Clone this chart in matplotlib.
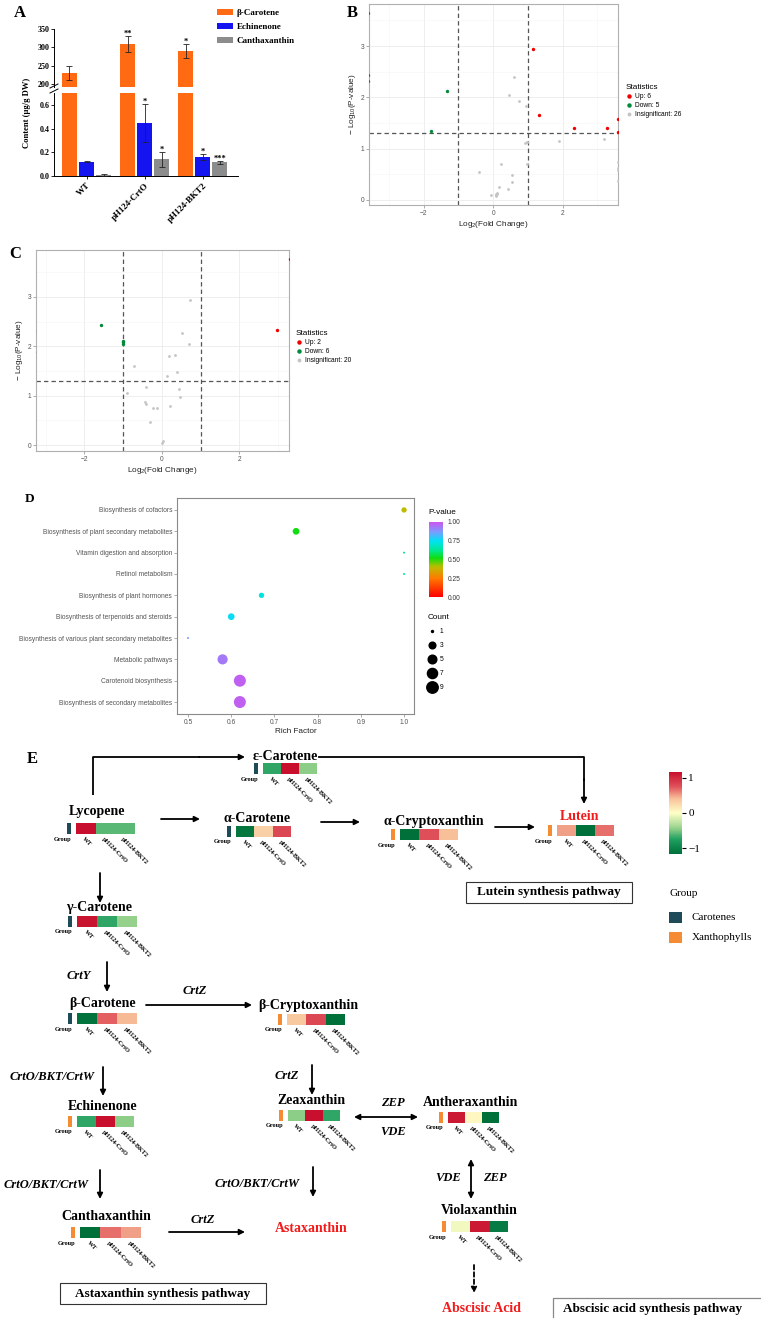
import numpy as np
import matplotlib
matplotlib.use("Agg")
import matplotlib.pyplot as plt
from matplotlib.colors import LinearSegmentedColormap, Normalize
from matplotlib.patches import Rectangle
from matplotlib.lines import Line2D
from matplotlib.cm import ScalarMappable

W, H = 761, 1318
SERIF = ["Liberation Serif", "DejaVu Serif"]
SANS = ["Liberation Sans", "DejaVu Sans"]
plt.rcParams["font.family"] = SERIF
plt.rcParams["mathtext.default"] = "regular"

# ---------------- A: pigment content
strains = ["WT", "pH124-CrtO", "pH124-BKT2"]
pigments = ["β-Carotene", "Echinenone", "Canthaxanthin"]
beta_carotene = [230, 310, 290]
beta_carotene_err = [18, 22, 20]
echinenone = [0.12, 0.45, 0.16]
echinenone_err = [0.005, 0.16, 0.025]
canthaxanthin = [0.01, 0.14, 0.115]
canthaxanthin_err = [0.006, 0.06, 0.015]
beta_carotene_sig = ["", "**", "*"]
echinenone_sig = ["", "*", "*"]
canthaxanthin_sig = ["", "*", "***"]

# ---------------- B: volcano (log2 FC, -log10 p)
b_up_fc = [1.16, 1.33, 2.33, 3.28, 3.6, 3.6]
b_up_p = [2.94, 1.66, 1.41, 1.41, 1.58, 1.32]
b_down_fc = [-3.6, -3.6, -3.6, -1.32, -1.79]
b_down_p = [3.65, 2.44, 2.31, 2.12, 1.35]
b_ns_fc = [0.60, 0.45, 0.75, 0.95, 0.97, 0.93, 1.91, 3.21, 0.99, 0.23,
           -0.41, 0.54, 0.53, 0.16, 0.44, -0.07, 0.07, 0.11, 0.09, 3.6,
           3.6, 3.6, 0.08, 3.6, 0.98, 0.12]
b_ns_p = [2.39, 2.05, 1.92, 1.83, 1.12, 1.11, 1.15, 1.18, 0.69, 0.69,
          0.54, 0.48, 0.34, 0.25, 0.21, 0.10, 0.07, 0.14, 0.12, 0.73,
          0.58, 0.37, 0.09, 0.62, 1.13, 0.11]

# ---------------- C: volcano
c_up_fc = [3.3, 2.97]
c_up_p = [3.77, 2.34]
c_down_fc = [-3.3, -3.3, -1.57, -1.0, -1.0, -1.0]
c_down_p = [2.30, 1.88, 2.43, 2.11, 2.04, 2.08]
c_ns_fc = [0.73, 0.51, 0.70, 0.34, 0.19, -0.71, 0.40, 0.14, -0.42, 0.43,
           -0.90, 0.46, -0.43, -0.42, -0.24, -0.12, 0.21, -0.31, 0.03, 0.01]
c_ns_p = [2.94, 2.27, 2.04, 1.83, 1.80, 1.61, 1.48, 1.40, 1.17, 1.14,
          1.05, 0.97, 0.88, 0.83, 0.76, 0.76, 0.79, 0.47, 0.09, 0.05]

# ---------------- D: KEGG enrichment
pathways = ["Biosynthesis of cofactors",
            "Biosynthesis of plant secondary metabolites",
            "Vitamin digestion and absorption",
            "Retinol metabolism",
            "Biosynthesis of plant hormones",
            "Biosynthesis of terpenoids and steroids",
            "Biosynthesis of various plant secondary metabolites",
            "Metabolic pathways",
            "Carotenoid biosynthesis",
            "Biosynthesis of secondary metabolites"]
rich_factor = [1.0, 0.75, 1.0, 1.0, 0.67, 0.60, 0.50, 0.58, 0.62, 0.62]
gene_count = [2, 3, 1, 1, 2, 3, 1, 7, 10, 10]
p_value = [0.40, 0.52, 0.62, 0.62, 0.72, 0.76, 0.86, 0.93, 0.98, 0.98]
count_breaks = [1, 3, 5, 7, 9]

# ---------------- E: pathway heatmap (row z-scores)
samples = ["WT", "pH124-CrtO", "pH124-BKT2"]
compounds = ["ε-Carotene", "Lycopene", "α-Carotene", "α-Cryptoxanthin", "Lutein",
             "γ-Carotene", "β-Carotene", "β-Cryptoxanthin", "Echinenone",
             "Zeaxanthin", "Antheraxanthin", "Violaxanthin", "Canthaxanthin"]
compound_group = ["Carotenes", "Carotenes", "Carotenes", "Xanthophylls", "Xanthophylls",
                  "Carotenes", "Carotenes", "Xanthophylls", "Xanthophylls",
                  "Xanthophylls", "Xanthophylls", "Xanthophylls", "Xanthophylls"]
z_wt = [-0.70, 1.15, -1.10, -1.15, 0.50, 1.12, -1.12, 0.35, -0.70, -0.45, 1.10, -0.05, -1.15]
z_crto = [1.15, -0.58, 0.30, 0.75, -1.15, -0.70, 0.70, 0.80, 1.15, 1.15, 0.05, 1.10, 0.65]
z_bkt2 = [-0.45, -0.58, 0.80, 0.40, 0.65, -0.42, 0.42, -1.15, -0.45, -0.70, -1.15, -1.05, 0.50]
group_names = ["Carotenes", "Xanthophylls"]


def px_rect(x0, y0, x1, y1):
    return [x0 / W, 1 - y1 / H, (x1 - x0) / W, (y1 - y0) / H]


def fx(x):
    return x / W


def fy(y):
    return 1 - y / H


fig = plt.figure(figsize=(W / 100, H / 100), dpi=100, facecolor="white")

# =============== Panel A ===============
axA_top = fig.add_axes(px_rect(54, 29, 238, 87))
axA_bot = fig.add_axes(px_rect(54, 93, 238, 176))
xpos = np.arange(len(strains))
a_series = [(beta_carotene, beta_carotene_err, beta_carotene_sig, "#FF6A13"),
            (echinenone, echinenone_err, echinenone_sig, "#1414F0"),
            (canthaxanthin, canthaxanthin_err, canthaxanthin_sig, "#8C8C8C")]
bar_handles = []
for k, (vals, errs, sig, col) in enumerate(a_series):
    xs = xpos + (k - 1) * 0.293
    for ax in (axA_top, axA_bot):
        b = ax.bar(xs, vals, 0.26, color=col, zorder=2)
        ax.errorbar(xs, vals, yerr=errs, fmt="none", ecolor="#222222",
                    elinewidth=0.6, capsize=2.2, capthick=0.6, zorder=3)
    bar_handles.append(b)
    for xi, v, e, s in zip(xs, vals, errs, sig):
        if not s:
            continue
        target = axA_top if v + e > 0.7 else axA_bot
        target.text(xi, v + e, s, ha="center", va="baseline", fontsize=6,
                    fontweight="bold", zorder=4)

axA_top.set_ylim(192, 350)
axA_bot.set_ylim(0, 0.70)
for ax in (axA_top, axA_bot):
    ax.set_xlim(-0.56, 2.61)
    ax.spines["top"].set_visible(False)
    ax.spines["right"].set_visible(False)
    ax.tick_params(axis="y", length=2, width=0.6, labelsize=5.8, pad=1)
axA_top.spines["bottom"].set_visible(False)
axA_top.set_xticks([])
axA_top.set_yticks([200, 250, 300, 350])
axA_bot.set_yticks([0, 0.2, 0.4, 0.6])
axA_bot.set_yticklabels(["0.0", "0.2", "0.4", "0.6"])
axA_bot.set_xticks(xpos)
axA_bot.set_xticklabels(strains, rotation=45, ha="right", rotation_mode="anchor",
                        fontsize=6.5, fontweight="bold")
axA_bot.tick_params(axis="x", length=2, width=0.6, pad=2)
for ax in (axA_top, axA_bot):
    for lab in ax.get_yticklabels():
        lab.set_fontweight("bold")
    for sp in ax.spines.values():
        sp.set_linewidth(0.7)
# axis break marks
for y0 in (86, 91):
    fig.add_artist(Line2D([fx(50), fx(58)], [fy(y0 + 2), fy(y0 - 2)],
                          color="black", lw=0.7))
fig.text(fx(27), fy(113), "Content (μg/g DW)", rotation=90, ha="center",
         va="center", fontsize=6.2, fontweight="bold")
fig.legend(bar_handles, pigments, loc="upper left",
           bbox_to_anchor=(fx(217), fy(9)), frameon=False,
           prop={"family": SERIF, "size": 6.5, "weight": "bold"},
           handlelength=1.8, handleheight=0.65, handletextpad=0.4,
           labelspacing=0.65, borderpad=0, borderaxespad=0)
fig.text(fx(20), fy(13), "A", ha="center", va="center", fontsize=12, fontweight="bold")


# =============== Panels B & C ===============
def volcano(ax, up, down, ns, xlim, ylim, leg_xy):
    ax.scatter(ns[0], ns[1], s=4, color="#C4C4C4", lw=0, zorder=3)
    ax.scatter(up[0], up[1], s=6, color="#F20000", lw=0, zorder=3)
    ax.scatter(down[0], down[1], s=6, color="#008B3A", lw=0, zorder=3)
    for v in (-1, 1):
        ax.axvline(v, color="#555555", ls=(0, (3.5, 2.5)), lw=0.9, zorder=2)
    ax.axhline(-np.log10(0.05), color="#555555", ls=(0, (3.5, 2.5)), lw=0.9, zorder=2)
    ax.set_xlim(xlim)
    ax.set_ylim(ylim)
    ax.set_xticks([-2, 0, 2])
    ax.set_yticks([0, 1, 2, 3])
    ax.set_xticks([-3, -1, 1, 3], minor=True)
    ax.set_yticks([0.5, 1.5, 2.5, 3.5], minor=True)
    ax.grid(which="major", color="#EBEBEB", lw=0.6)
    ax.grid(which="minor", color="#F5F5F5", lw=0.4)
    ax.set_axisbelow(True)
    ax.tick_params(which="major", length=2, width=0.5, color="#888888",
                   labelsize=4.8, labelcolor="#555555", pad=1.5)
    ax.tick_params(which="minor", length=0)
    for lab in ax.get_xticklabels() + ax.get_yticklabels():
        lab.set_fontfamily(SANS)
    for sp in ax.spines.values():
        sp.set_color("#B0B0B0")
        sp.set_linewidth(0.8)
    ax.set_xlabel("Log$_2$(Fold Change)", fontsize=5.9, fontfamily=SANS,
                  labelpad=1.5, color="#222222")
    ax.set_ylabel("$-$ Log$_{10}$(P-value)", fontsize=5.9, fontfamily=SANS,
                  labelpad=2, color="#222222")
    handles = [Line2D([], [], marker="o", ls="", color=c, markersize=ms)
               for c, ms in (("#F20000", 2.2), ("#008B3A", 2.2), ("#C4C4C4", 1.8))]
    labels = [f"Up: {len(up[0])}", f"Down: {len(down[0])}",
              f"Insignificant: {len(ns[0])}"]
    ax.legend(handles, labels, title="Statistics", loc="upper left",
              bbox_to_anchor=(fx(leg_xy[0]), fy(leg_xy[1])),
              bbox_transform=fig.transFigure, frameon=False,
              prop={"family": SANS, "size": 4.8},
              title_fontproperties={"family": SANS, "size": 5.9},
              alignment="left", handlelength=0.8, handletextpad=0.5,
              labelspacing=0.3, borderpad=0, borderaxespad=0)


axB = fig.add_axes(px_rect(369, 4, 618, 205))
volcano(axB, (b_up_fc, b_up_p), (b_down_fc, b_down_p), (b_ns_fc, b_ns_p),
        (-3.58, 3.6), (-0.1, 3.82), (626, 84))
fig.text(fx(352), fy(13), "B", ha="center", va="center", fontsize=12, fontweight="bold")

axC = fig.add_axes(px_rect(36, 250, 289, 451))
volcano(axC, (c_up_fc, c_up_p), (c_down_fc, c_down_p), (c_ns_fc, c_ns_p),
        (-3.25, 3.28), (-0.12, 3.95), (296, 330))
fig.text(fx(15), fy(254), "C", ha="center", va="center", fontsize=12, fontweight="bold")

# =============== Panel D ===============
p_cmap = LinearSegmentedColormap.from_list(
    "pv", [(0.0, "#FF0000"), (0.25, "#FF7A00"), (0.40, "#BDBD00"),
           (0.52, "#10DD10"), (0.62, "#00E890"), (0.75, "#00E2F5"),
           (0.87, "#7C9CFF"), (1.0, "#CC55EE")])


def count_size(c):
    c = np.asarray(c, dtype=float)
    d_px = 2.0 * (1 + 5 * np.sqrt((c - 1) / (max(gene_count) - 1)))
    return (d_px * 0.72) ** 2


axD = fig.add_axes(px_rect(177, 498, 414, 714))
yy = np.arange(len(pathways))[::-1] + 1
sc = axD.scatter(rich_factor, yy, s=count_size(gene_count), c=p_value,
                 cmap=p_cmap, vmin=0, vmax=1, lw=0, zorder=3)
axD.set_xlim(0.4745, 1.023)
axD.set_ylim(0.44, 10.56)
axD.set_yticks(yy)
axD.set_yticklabels(pathways)
xt = [0.5, 0.6, 0.7, 0.8, 0.9, 1.0]
axD.set_xticks(xt)
axD.set_xticklabels([f"{v:.1f}" for v in xt])
axD.tick_params(length=2, width=0.5, color="#888888", labelsize=4.8,
                labelcolor="#555555", pad=1.5)
for lab in axD.get_xticklabels() + axD.get_yticklabels():
    lab.set_fontfamily(SANS)
for sp in axD.spines.values():
    sp.set_color("#8A8A8A")
    sp.set_linewidth(0.8)
axD.set_xlabel("Rich Factor", fontsize=5.9, fontfamily=SANS, labelpad=1.5,
               color="#222222")
caxD = fig.add_axes(px_rect(429, 522, 443, 597))
cbD = fig.colorbar(sc, cax=caxD, ticks=[0, 0.25, 0.5, 0.75, 1.0])
cbD.outline.set_visible(False)
cbD.ax.set_yticklabels([f"{t:.2f}" for t in [0, 0.25, 0.5, 0.75, 1.0]])
cbD.ax.tick_params(length=2, width=0.5, color="white", labelsize=4.8,
                   labelcolor="#333333", pad=1.5)
for lab in cbD.ax.get_yticklabels():
    lab.set_fontfamily(SANS)
fig.text(fx(428), fy(513), "P-value", ha="left", va="center", fontsize=5.9,
         fontfamily=SANS)
cnt_handles = [Line2D([], [], marker="o", ls="", color="black",
                      markersize=np.sqrt(count_size(c))) for c in count_breaks]
axD.legend(cnt_handles, [str(c) for c in count_breaks], title="Count",
           loc="upper left", bbox_to_anchor=(fx(428), fy(614)),
           bbox_transform=fig.transFigure, frameon=False,
           prop={"family": SANS, "size": 4.8},
           title_fontproperties={"family": SANS, "size": 5.9},
           alignment="left", handlelength=1.2, handletextpad=0.6,
           labelspacing=1.05, borderpad=0, borderaxespad=0)
fig.text(fx(30), fy(499), "D", ha="center", va="center", fontsize=9.5, fontweight="bold")

# =============== Panel E ===============
axE = fig.add_axes(px_rect(0, 735, 761, 1318))
axE.axis("off")
hm_cmap = LinearSegmentedColormap.from_list(
    "hm", [(0.0, "#00703A"), (0.175, "#1E9F5F"), (0.327, "#9ED58F"),
           (0.5, "#FFFFC8"), (0.673, "#F8C29A"), (0.825, "#E0505A"),
           (1.0, "#C8102E")])
hm_norm = Normalize(vmin=-1.155, vmax=1.155)
group_colors = {"Carotenes": "#1E4B57", "Xanthophylls": "#F58B33"}

# layout (pixel positions of names and heat strips)
name_pos = {"ε-Carotene": (285, 756), "Lycopene": (97, 811), "α-Carotene": (257, 818),
            "α-Cryptoxanthin": (434, 821), "Lutein": (580, 817),
            "γ-Carotene": (99, 907), "β-Carotene": (103, 1003),
            "β-Cryptoxanthin": (308, 1005), "Echinenone": (103, 1107),
            "Zeaxanthin": (311, 1101), "Antheraxanthin": (471, 1103),
            "Violaxanthin": (479, 1210), "Canthaxanthin": (106, 1216)}
strip_pos = {"ε-Carotene": (254, 763, 18), "Lycopene": (67, 823, 19.4),
             "α-Carotene": (227, 826, 18.3), "α-Cryptoxanthin": (391, 829, 19.3),
             "Lutein": (548, 825, 19), "γ-Carotene": (68, 916, 20),
             "β-Carotene": (68, 1013, 20), "β-Cryptoxanthin": (278, 1014, 19.3),
             "Echinenone": (68, 1116, 19), "Zeaxanthin": (279, 1110, 17.3),
             "Antheraxanthin": (439, 1112, 16.7), "Violaxanthin": (442, 1221, 18.7),
             "Canthaxanthin": (71, 1227, 20.3)}
red_names = {"Lutein"}
SH = 11

for i, name in enumerate(compounds):
    tx, ty = name_pos[name]
    axE.text(tx, ty, name, ha="center", va="center", fontsize=10, fontweight="bold",
             color="#F21B1B" if name in red_names else "black")
    gx, sy, cw = strip_pos[name]
    axE.add_patch(Rectangle((gx, sy), 4, SH, color=group_colors[compound_group[i]], lw=0))
    cx0 = gx + 8.5
    row = np.array([[z_wt[i], z_crto[i], z_bkt2[i]]])
    axE.imshow(row, cmap=hm_cmap, norm=hm_norm, aspect="auto", interpolation="nearest",
               extent=(cx0, cx0 + 3 * cw, sy + SH, sy))
    axE.text(gx - 4, sy + SH + 5, "Group", ha="center", va="center", fontsize=4.5,
             fontweight="bold")
    for j, s in enumerate(samples):
        axE.text(cx0 + cw * j + cw / 2 - 2, sy + SH + 4, s, rotation=-45,
                 rotation_mode="anchor", ha="left", va="center", fontsize=4.5,
                 fontweight="bold")

for txt, (tx, ty) in (("Astaxanthin", (311, 1228)), ("Abscisic Acid", (481, 1309))):
    axE.text(tx, ty, txt, ha="center", va="center", fontsize=10, fontweight="bold",
             color="#F21B1B")


def arrow(p0, p1, style="-|>", ls="-"):
    axE.annotate("", xy=p1, xytext=p0,
                 arrowprops=dict(arrowstyle=style, color="black", lw=1.3, linestyle=ls,
                                 mutation_scale=8, shrinkA=0, shrinkB=0))


arrow((161, 819), (200, 819))
arrow((321, 822), (360, 822))
arrow((495, 827), (535, 827))
axE.plot([93, 93, 200], [795, 757, 757], color="black", lw=1.3, solid_capstyle="butt")
arrow((199, 757), (245, 757))
axE.plot([319, 584, 584], [757, 757, 780], color="black", lw=1.3)
arrow((584, 779), (584, 804))
arrow((100, 873), (100, 903))
arrow((107, 962), (107, 992))
arrow((146, 1005), (252, 1005))
arrow((103, 1067), (103, 1096))
arrow((312, 1065), (312, 1095))
arrow((354, 1117), (418, 1117), style="<|-|>")
arrow((100, 1170), (100, 1199))
arrow((313, 1167), (313, 1197))
arrow((169, 1232), (245, 1232))
arrow((471, 1159), (471, 1199), style="<|-|>")
arrow((474, 1265), (474, 1293), ls=(0, (2.5, 1.5)))

enzymes = [("CrtY", 79, 976), ("CrtZ", 195, 991), ("CrtO/BKT/CrtW", 52, 1077),
           ("CrtZ", 287, 1076), ("ZEP", 393, 1103), ("VDE", 393, 1132),
           ("CrtO/BKT/CrtW", 46, 1185), ("CrtO/BKT/CrtW", 257, 1184),
           ("CrtZ", 203, 1220), ("VDE", 448, 1178), ("ZEP", 495, 1178)]
for txt, tx, ty in enzymes:
    axE.text(tx, ty, txt, ha="center", va="center", fontsize=9, fontweight="bold",
             fontstyle="italic")

# pathway boxes
for txt, (x0, y0, x1, y1) in (("Lutein synthesis pathway", (466, 882, 632, 903)),
                              ("Astaxanthin synthesis pathway", (60, 1283, 266, 1304))):
    axE.add_patch(Rectangle((x0, y0), x1 - x0, y1 - y0, fill=False, ec="#333333", lw=0.8))
    axE.text((x0 + x1) / 2, (y0 + y1) / 2, txt, ha="center", va="center",
             fontsize=9.5, fontweight="bold")
axE.plot([553, 553, 761], [1318, 1298, 1298], color="#888888", lw=0.9)
axE.text(653, 1309, "Abscisic acid synthesis pathway", ha="center", va="center",
         fontsize=9.5, fontweight="bold")

# group legend
axE.text(669, 893, "Group", ha="left", va="center", fontsize=8)
for k, g in enumerate(group_names):
    yk = 912 + 20 * k
    axE.add_patch(Rectangle((669, yk), 13, 11, color=group_colors[g], lw=0))
    axE.text(692, yk + 5.5, g, ha="left", va="center", fontsize=8)

axE.set_xlim(0, W)
axE.set_ylim(1318, 735)
fig.text(fx(32), fy(759), "E", ha="center", va="center", fontsize=12, fontweight="bold")

caxE = fig.add_axes(px_rect(669, 772, 682, 854))
cbE = fig.colorbar(ScalarMappable(norm=hm_norm, cmap=hm_cmap), cax=caxE, ticks=[-1, 0, 1])
cbE.outline.set_visible(False)
cbE.ax.set_yticklabels(["−1", "0", "1"])
cbE.ax.tick_params(length=3, width=0.8, labelsize=8, pad=1.5)

fig.savefig("out.png", dpi=100, facecolor="white")
